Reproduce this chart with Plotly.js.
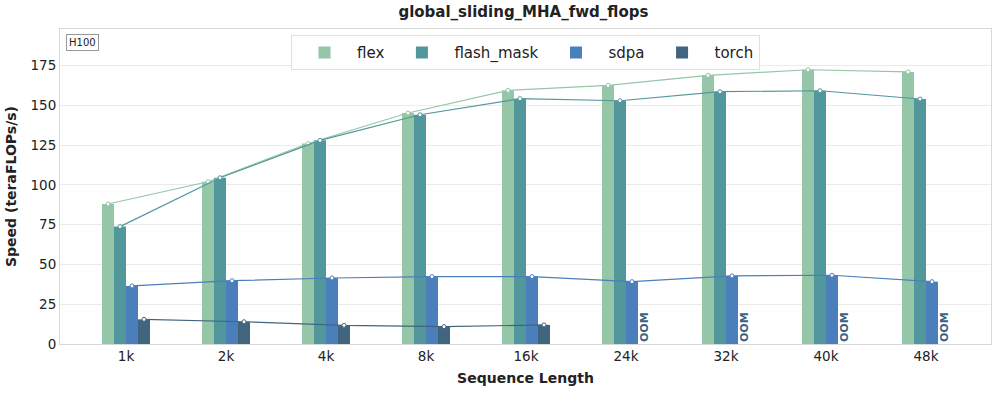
<!DOCTYPE html>
<html>
<head>
<meta charset="utf-8">
<script src="https://cdn.plot.ly/plotly-3.0.1.min.js"></script>
<style>
  body { margin: 0; background: #fff; }
  #chart { width: 997px; height: 394px; }
</style>
</head>
<body>
<div id="chart"></div>
<script>
// Data
const seqLengths = ['1k', '2k', '4k', '8k', '16k', '24k', '32k', '40k', '48k'];
const flexValues = [88.0, 102.0, 126.0, 145.2, 159.4, 162.6, 168.9, 172.4, 171.0];
const flashMaskValues = [73.8, 104.5, 128.0, 144.1, 154.2, 152.9, 158.6, 159.2, 154.0];
const sdpaValues = [36.5, 39.8, 41.5, 42.4, 42.4, 39.2, 42.8, 43.2, 39.2];
const torchValues = [15.5, 14.0, 11.7, 10.9, 12.0, null, null, null, null];

const seriesNames = ['flex', 'flash_mask', 'sdpa', 'torch'];
const seriesValues = [flexValues, flashMaskValues, sdpaValues, torchValues];
const colors = ['#95c6a7', '#52979b', '#4a7fbb', '#41657f'];

const barWidth = 0.12;
const idx = seqLengths.map((_, i) => i);

const traces = [];

// bars
seriesValues.forEach((vals, k) => {
  traces.push({
    type: 'bar',
    name: seriesNames[k],
    x: idx,
    y: vals,
    marker: { color: colors[k], line: { width: 0 } },
    hoverinfo: 'y+name'
  });
});

// lines through bar tops
seriesValues.forEach((vals, k) => {
  const off = (k - 1.5) * barWidth;
  traces.push({
    type: 'scatter',
    mode: 'lines+markers',
    x: idx.map(i => i + off),
    y: vals,
    line: { color: colors[k], width: 1.2 },
    marker: { size: 4, color: '#ffffff', line: { color: colors[k], width: 1 } },
    showlegend: false,
    connectgaps: false,
    hoverinfo: 'skip'
  });
});

// OOM labels where torch has no value
const annotations = [];
torchValues.forEach((v, i) => {
  if (v === null) {
    annotations.push({
      x: i + 1.5 * barWidth,
      y: 0,
      xref: 'x', yref: 'y',
      text: '<b>OOM</b>',
      textangle: -90,
      showarrow: false,
      yanchor: 'bottom',
      xanchor: 'center',
      font: { family: 'DejaVu Sans', size: 11, color: '#3d5f80' }
    });
  }
});

annotations.push({
  x: 0.006, y: 0.985,
  xref: 'paper', yref: 'paper',
  xanchor: 'left', yanchor: 'top',
  text: 'H100',
  showarrow: false,
  font: { family: 'DejaVu Sans', size: 10, color: '#222' },
  bgcolor: '#ffffff',
  bordercolor: '#999999',
  borderwidth: 1,
  borderpad: 2
});

const layout = {
  width: 997,
  height: 394,
  margin: { l: 60, r: 6, t: 29, b: 50 },
  paper_bgcolor: '#ffffff',
  plot_bgcolor: '#ffffff',
  font: { family: 'DejaVu Sans', color: '#222' },
  barmode: 'group',
  bargap: 0.52,
  bargroupgap: 0,
  title: {
    text: '<b>global_sliding_MHA_fwd_flops</b>',
    font: { family: 'DejaVu Sans', size: 15, color: '#222' },
    x: 0.525, xanchor: 'center',
    y: 0.97, yanchor: 'middle'
  },
  xaxis: {
    range: [-0.66, 8.65],
    tickvals: idx,
    ticktext: seqLengths,
    showgrid: false,
    zeroline: false,
    showline: true,
    mirror: true,
    linecolor: '#d8d8d8',
    linewidth: 1,
    ticks: '',
    tickfont: { size: 13.5, color: '#222' },
    title: { text: '<b>Sequence Length</b>', font: { size: 14, color: '#222' }, standoff: 9 }
  },
  yaxis: {
    range: [0, 198],
    tickvals: [0, 25, 50, 75, 100, 125, 150, 175],
    showgrid: true,
    gridcolor: '#ebebeb',
    gridwidth: 1,
    zeroline: false,
    showline: true,
    mirror: true,
    linecolor: '#d8d8d8',
    linewidth: 1,
    ticks: '',
    tickfont: { size: 13.5, color: '#222' },
    title: { text: '<b>Speed (teraFLOPs/s)</b>', font: { size: 14, color: '#222' }, standoff: 10 }
  },
  legend: {
    orientation: 'h',
    x: 0.5, xanchor: 'center',
    y: 0.98, yanchor: 'top',
    bgcolor: '#ffffff',
    bordercolor: '#e0e0e0',
    borderwidth: 1,
    font: { size: 15, color: '#222' },
    itemwidth: 55,
    traceorder: 'normal'
  },
  annotations: annotations
};

Plotly.newPlot('chart', traces, layout, { displayModeBar: false, responsive: false });
</script>
</body>
</html>
